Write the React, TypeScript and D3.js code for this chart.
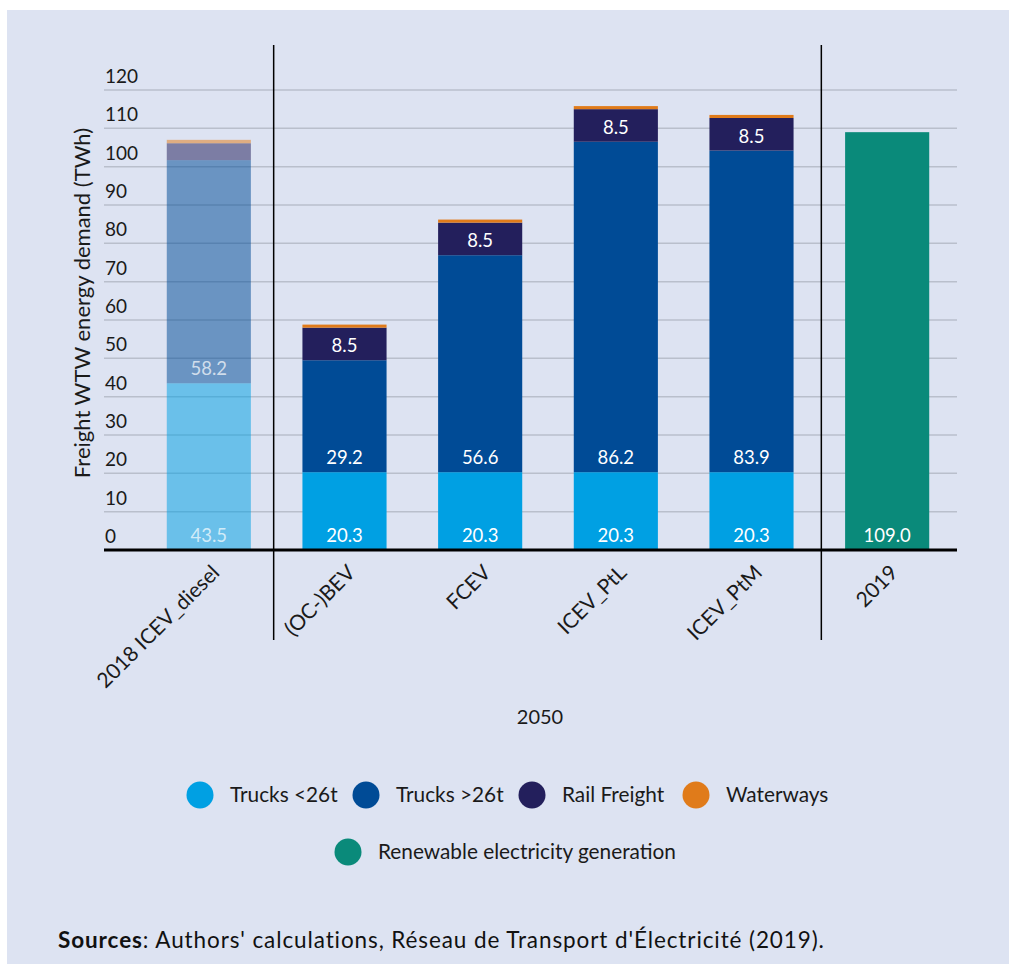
import React from "react"
import * as d3 from "d3"

const categories = ["2018 ICEV_diesel", "(OC-)BEV", "FCEV", "ICEV_PtL", "ICEV_PtM", "2019"]
const trucksSmall = [43.5, 20.3, 20.3, 20.3, 20.3, 0]
const trucksLarge = [58.2, 29.2, 56.6, 86.2, 83.9, 0]
const railFreight = [4.4, 8.5, 8.5, 8.5, 8.5, 0]
const waterways = [0.9, 0.8, 0.8, 0.8, 0.8, 0]
const renewable = [0, 0, 0, 0, 0, 109.0]
const yTicks = [0, 10, 20, 30, 40, 50, 60, 70, 80, 90, 100, 110, 120]

const seriesKeys = ["trucksSmall", "trucksLarge", "rail", "waterways", "renewable"]
const seriesNames = ["Trucks <26t", "Trucks >26t", "Rail Freight", "Waterways", "Renewable electricity generation"]
const seriesColors = ["#00a0e3", "#004b96", "#231f5c", "#e07b1a", "#0a8a7a"]
const labelled = [true, true, true, false, true]

const FONT = "Lato, 'Open Sans', sans-serif"
const W = 1009
const H = 964

export default function App() {
    const rows = categories.map((c, i) => ({
        cat: c,
        trucksSmall: trucksSmall[i],
        trucksLarge: trucksLarge[i],
        rail: railFreight[i],
        waterways: waterways[i],
        renewable: renewable[i],
    }))
    const stacked = d3.stack<any>().keys(seriesKeys)(rows)

    const x = d3.scaleBand().domain(categories).range([141, 955]).paddingInner(0.38).paddingOuter(0.19)
    const y = d3.scaleLinear().domain([0, 120]).range([550, 90])

    const plotLeft = 104
    const plotRight = 957
    const sep1 = (x(categories[0])! + x.bandwidth() + x(categories[1])!) / 2 - 3
    const sep2 = (x(categories[4])! + x.bandwidth() + x(categories[5])!) / 2 + 2

    const legendRow1 = [
        { i: 0, cx: 200, cy: 795 },
        { i: 1, cx: 366, cy: 795 },
        { i: 2, cx: 532, cy: 795 },
        { i: 3, cx: 696, cy: 795 },
    ]
    const legendRow2 = [{ i: 4, cx: 348, cy: 852 }]

    return (
        <svg width={W} height={H} style={{ position: "absolute", left: 0, top: 0 }} fontFamily={FONT}>
            <rect x={0} y={0} width={W} height={H} fill="#ffffff" />
            <rect x={7} y={10} width={W - 7} height={H - 10} fill="#dde3f2" />

            {/* gridlines + y ticks */}
            {yTicks.map((t) => (
                <g key={t}>
                    {t > 0 && (
                        <line x1={plotLeft} x2={plotRight} y1={y(t)} y2={y(t)} stroke="#b9bfcc" strokeWidth={1.5} />
                    )}
                    <text x={105} y={y(t) - 7} fontSize={19} fill="#1a1a1a">{t}</text>
                </g>
            ))}

            {/* bars */}
            {stacked.map((s, si) => (
                <g key={s.key} fill={seriesColors[si]}>
                    {s.map((d, ci) => {
                        const v = d[1] - d[0]
                        if (v <= 0) return null
                        return (
                            <rect key={ci}
                                x={x(categories[ci])}
                                width={x.bandwidth()}
                                y={y(d[1])}
                                height={y(d[0]) - y(d[1])}
                                fillOpacity={ci === 0 ? 0.52 : 1}
                            />
                        )
                    })}
                </g>
            ))}

            {/* value labels */}
            {stacked.map((s, si) => (
                <g key={"l" + s.key}>
                    {s.map((d, ci) => {
                        const v = d[1] - d[0]
                        if (v < 5 || !labelled[si]) return null
                        return (
                            <text key={ci}
                                x={x(categories[ci])! + x.bandwidth() / 2}
                                y={y(d[0]) - 8}
                                textAnchor="middle"
                                fontSize={18.5}
                                fill="#ffffff"
                                fillOpacity={ci === 0 ? 0.7 : 1}>
                                {v.toFixed(1)}
                            </text>
                        )
                    })}
                </g>
            ))}

            {/* axis baseline */}
            <line x1={plotLeft} x2={plotRight} y1={y(0)} y2={y(0)} stroke="#000" strokeWidth={3} />

            {/* group separators */}
            <line x1={sep1} x2={sep1} y1={45} y2={640} stroke="#000" strokeWidth={1.5} />
            <line x1={sep2} x2={sep2} y1={45} y2={640} stroke="#000" strokeWidth={1.5} />

            {/* x tick labels */}
            {categories.map((c) => {
                const cx = x(c)! + x.bandwidth() / 2 + 12
                const cy = 574
                return (
                    <text key={c} transform={`translate(${cx},${cy}) rotate(-45)`} textAnchor="end" fontSize={21} fill="#1a1a1a">
                        {c}
                    </text>
                )
            })}

            {/* y title */}
            <text transform={`translate(90,${303}) rotate(-90)`} textAnchor="middle" fontSize={22} fill="#1a1a1a">
                Freight WTW energy demand (TWh)
            </text>

            {/* x title */}
            <text x={540} y={724} textAnchor="middle" fontSize={20} fill="#1a1a1a">2050</text>

            {/* legend */}
            {[...legendRow1, ...legendRow2].map((l) => (
                <g key={l.i}>
                    <circle cx={l.cx} cy={l.cy} r={13.5} fill={seriesColors[l.i]} />
                    <text x={l.cx + 30} y={l.cy + 7} fontSize={20.8} fill="#1a1a1a">{seriesNames[l.i]}</text>
                </g>
            ))}

            {/* source */}
            <text x={58} y={948} fontSize={22.5} letterSpacing={0.9} fill="#111">
                <tspan fontWeight="bold">Sources</tspan>: Authors' calculations, Réseau de Transport d'Électricité (2019).
            </text>
        </svg>
    )
}
